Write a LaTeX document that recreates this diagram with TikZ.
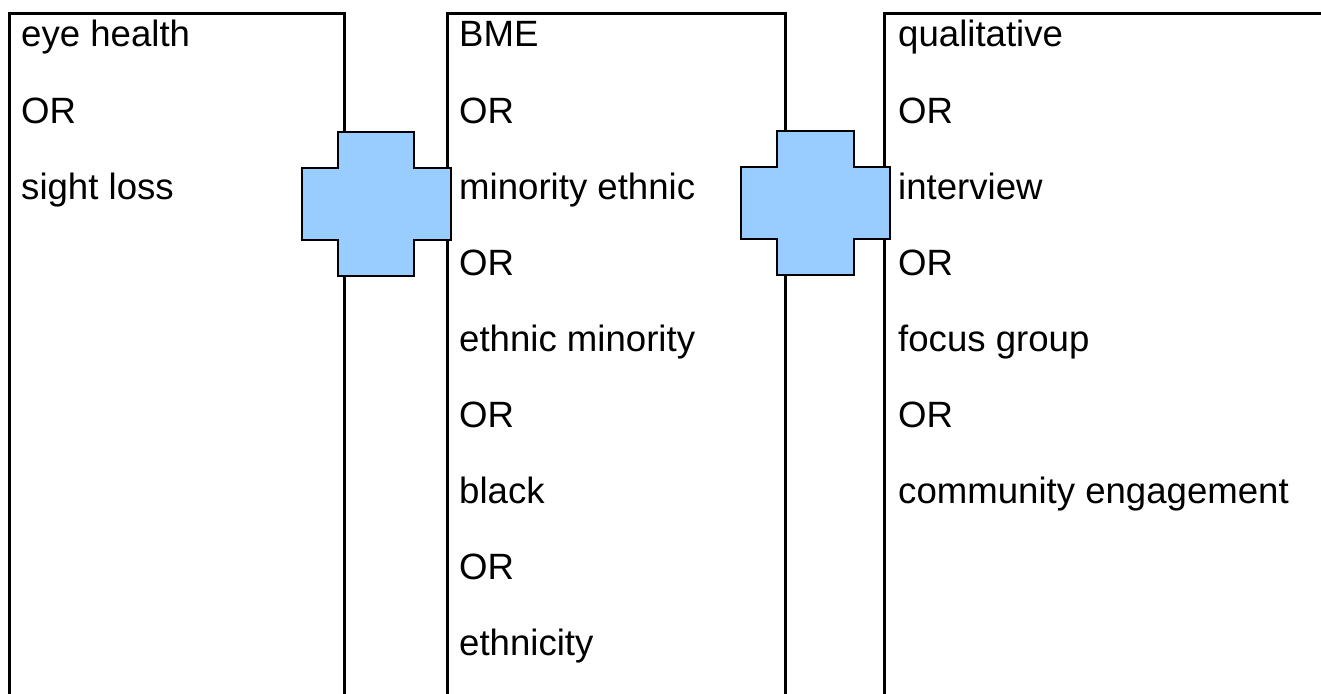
\documentclass[tikz,border=0pt]{standalone}
\usepackage{fontspec}
\setmainfont{Liberation Sans}
\definecolor{crossblue}{HTML}{99CCFF}
\tikzset{
  colbox/.style={draw=black, line width=2.8pt, fill=none, inner sep=0pt, anchor=north west},
  term/.style={anchor=base west, inner sep=0pt, font=\fontsize{36.6}{44}\selectfont},
  plus/.style={draw=black, fill=crossblue, line width=1.6pt, line join=miter}
}
\begin{document}
\begin{tikzpicture}[x=1pt,y=-1pt]
\useasboundingbox (0,0) rectangle (1321,693);
\clip (0,0) rectangle (1321,693);
% column boxes
\node[colbox, minimum width=335pt, minimum height=740pt] (b1) at (8,12) {};
\node[colbox, minimum width=338pt, minimum height=740pt] (b2) at (446,12) {};
\node[colbox, minimum width=500pt, minimum height=740pt] (b3) at (883,12) {};
% column 1
\node[term] (t11) at (21,47) {eye health};
\node[term] (t12) at (21,123) {OR};
\node[term] (t13) at (21,199) {sight loss};
% column 2
\node[term] (t21) at (459,47) {BME};
\node[term] (t22) at (459,123) {OR};
\node[term] (t23) at (459,199) {minority ethnic};
\node[term] (t24) at (459,275) {OR};
\node[term] (t25) at (459,351) {ethnic minority};
\node[term] (t26) at (459,427) {OR};
\node[term] (t27) at (459,503) {black};
\node[term] (t28) at (459,579) {OR};
\node[term] (t29) at (459,655) {ethnicity};
% column 3
\node[term] (t31) at (898,47) {qualitative};
\node[term] (t32) at (898,123) {OR};
\node[term] (t33) at (898,199) {interview};
\node[term] (t34) at (898,275) {OR};
\node[term] (t35) at (898,351) {focus group};
\node[term] (t36) at (898,427) {OR};
\node[term] (t37) at (898,503) {community engagement};
% plus signs
\draw[plus] (338,132) -- (414,132) -- (414,168) -- (451,168) -- (451,240) -- (414,240) -- (414,276) -- (338,276) -- (338,240) -- (302,240) -- (302,168) -- (338,168) -- cycle;
\draw[plus] (777,131) -- (854,131) -- (854,167) -- (890,167) -- (890,239) -- (854,239) -- (854,275) -- (777,275) -- (777,239) -- (741,239) -- (741,167) -- (777,167) -- cycle;
\end{tikzpicture}
\end{document}
